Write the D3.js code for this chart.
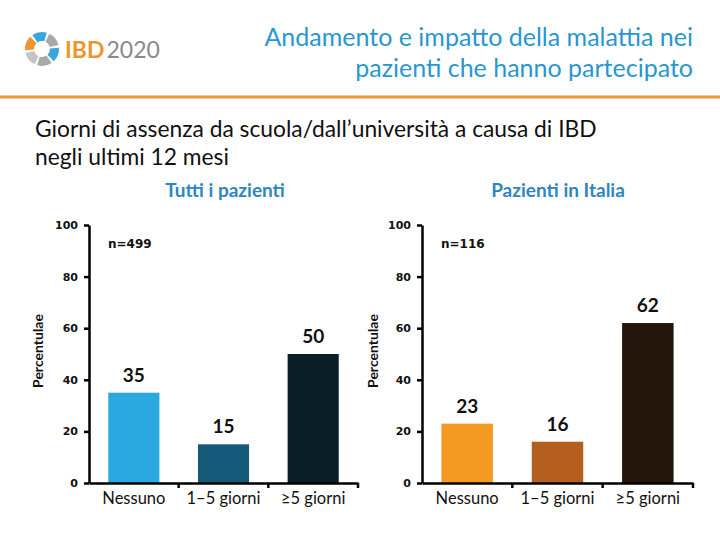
<!DOCTYPE html>
<html><head><meta charset="utf-8">
<script src="https://cdn.jsdelivr.net/npm/d3@7"></script>
<style>body{margin:0;background:#fff}svg{display:block}</style>
</head><body>
<svg id="c" width="720" height="540"></svg>
<script>
const categories = ["Nessuno", "1–5 giorni", "≥5 giorni"];
const valuesAll = [35, 15, 50];
const valuesItaly = [23, 16, 62];
const colorsAll = ["#29a9e0", "#145a78", "#0a1e28"];
const colorsItaly = ["#f49a22", "#b45f1e", "#24150b"];
const yTicks = [0, 20, 40, 60, 80, 100];
const panelTitles = ["Tutti i pazienti", "Pazienti in Italia"];
const nLabels = ["n=499", "n=116"];
const titleLines = ["Andamento e impatto della malattia nei", "pazienti che hanno partecipato"];
const subtitleLines = ["Giorni di assenza da scuola/dall’università a causa di IBD", "negli ultimi 12 mesi"];
const yLabel = "Percentulae";

const svg = d3.select("#c");
const F = "Lato, 'Open Sans', sans-serif";
const FT = "'DejaVu Sans',sans-serif";

// Header
svg.append("line").attr("x1",0).attr("x2",720).attr("y1",97).attr("y2",97)
  .attr("stroke","#e8963a").attr("stroke-width",3);
titleLines.forEach((t,i)=>{
  svg.append("text").attr("x",693).attr("y",46+i*31).attr("text-anchor","end")
    .attr("font-family",F).attr("font-size",25).attr("fill","#2897d0").text(t);
});
// Logo
const logo = svg.append("g").attr("transform","translate(42,49)");
const segCols = ["#f0952e","#3aa6dc","#a9a9a9","#3aa6dc","#a9a9a9","#c4c4c4"];
const arc = d3.arc().innerRadius(8).outerRadius(17);
segCols.forEach((c,i)=>{
  const a0 = -Math.PI*0.55 + i*Math.PI/3;
  logo.append("path").attr("d",arc({startAngle:a0+0.08,endAngle:a0+Math.PI/3-0.08})).attr("fill",c);
});
const lt = svg.append("text").attr("x",65).attr("y",58).attr("font-family",F).attr("font-size",23);
lt.append("tspan").attr("fill","#f0952e").attr("font-weight","bold").text("IBD");
lt.append("tspan").attr("fill","#8a8a8a").attr("dx",2).text("2020");

subtitleLines.forEach((t,i)=>{
  svg.append("text").attr("x",35).attr("y",137+i*28)
    .attr("font-family",F).attr("font-size",22.8).attr("fill","#111").text(t);
});

function panel(x0, x1, vals, cols, title, titleX, nLabel, yLabX) {
  const y = d3.scaleLinear().domain([0,100]).range([483,225]);
  const x = d3.scaleBand().domain(categories).range([x0,x1]).paddingInner(0.43).paddingOuter(0.215);
  const g = svg.append("g");
  svg.append("text").attr("x",titleX).attr("y",197).attr("text-anchor","middle")
    .attr("font-family",F).attr("font-weight","bold").attr("font-size",19).attr("fill","#2e86c1").text(title);
  // bars
  g.selectAll("rect.b").data(vals).join("rect")
    .attr("x",(d,i)=>x(categories[i])).attr("width",x.bandwidth())
    .attr("y",d=>y(d)).attr("height",d=>y(0)-y(d)).attr("fill",(d,i)=>cols[i]);
  g.selectAll("text.v").data(vals).join("text")
    .attr("x",(d,i)=>x(categories[i])+x.bandwidth()/2).attr("y",d=>y(d)-11)
    .attr("text-anchor","middle").attr("font-family",F).attr("font-weight","bold")
    .attr("font-size",19).attr("fill","#111").text(d=>d);
  // y axis
  const ya = g.append("g").attr("transform",`translate(${x0},0)`)
    .call(d3.axisLeft(y).tickValues(yTicks).tickSize(5).tickSizeOuter(0).tickPadding(6));
  ya.select(".domain").attr("stroke","#000").attr("stroke-width",2.5);
  ya.selectAll(".tick line").attr("stroke","#000").attr("stroke-width",2.5);
  ya.selectAll(".tick text").attr("font-family",FT)
    .attr("font-weight","bold").attr("font-size",11).attr("fill","#111");
  // x axis
  const xa = g.append("g").attr("transform",`translate(0,${y(0)})`)
    .call(d3.axisBottom(x).tickSize(0).tickPadding(9));
  xa.select(".domain").attr("stroke","#000").attr("stroke-width",2.5);
  xa.selectAll(".tick text").attr("font-family",F).attr("font-size",16.5).attr("fill","#111");
  const bounds = d3.range(1, categories.length+1).map(i=>x.range()[0]+i*x.step());
  g.selectAll("line.bt").data(bounds).join("line")
    .attr("x1",d=>d).attr("x2",d=>d).attr("y1",y(0)).attr("y2",y(0)+5)
    .attr("stroke","#000").attr("stroke-width",2.5);
  // n label
  g.append("text").attr("x",x0+19).attr("y",248).attr("font-family",FT)
    .attr("font-weight","bold").attr("font-size",12).attr("fill","#111").text(nLabel);
  // y label
  g.append("text").attr("transform",`translate(${yLabX},351) rotate(-90)`).attr("text-anchor","middle")
    .attr("font-family",F).attr("font-weight","bold").attr("font-size",14).attr("fill","#111").text(yLabel);
}
panel(89, 358, valuesAll, colorsAll, panelTitles[0], 225, nLabels[0], 43);
panel(422, 693, valuesItaly, colorsItaly, panelTitles[1], 558, nLabels[1], 378);
</script>
</body></html>
